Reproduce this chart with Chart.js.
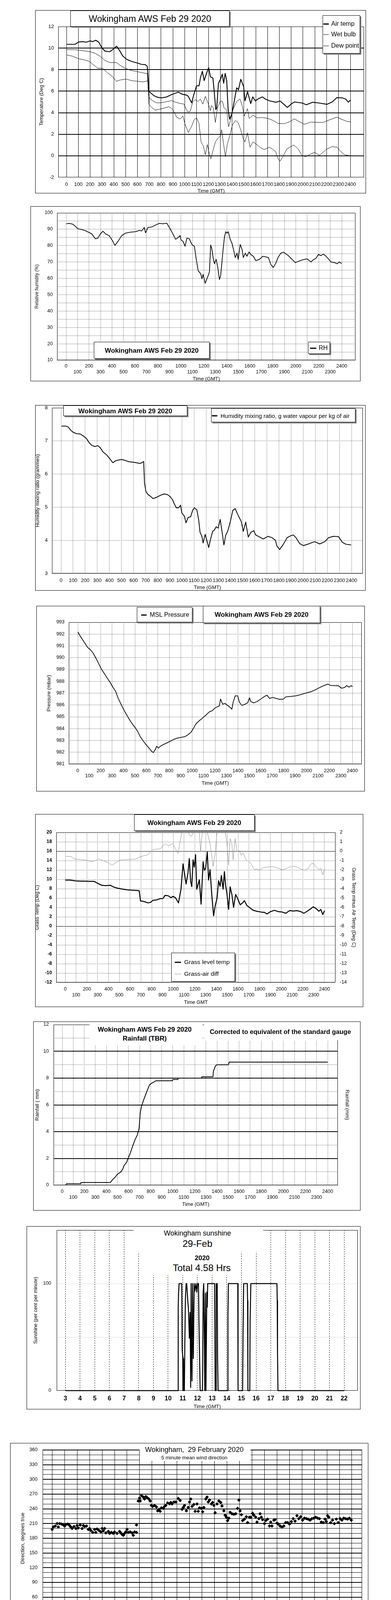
<!DOCTYPE html>
<html><head><meta charset="utf-8">
<script src="https://cdn.jsdelivr.net/npm/chart.js@4/dist/chart.umd.min.js"></script>
<style>
html,body{margin:0;padding:0;background:#fff;}
body{width:1000px;height:5000px;position:relative;overflow:hidden;font-family:'Liberation Sans',Arial,sans-serif;color:#000;}
.box{position:absolute;border:1px solid #000;box-sizing:border-box;}
.cv{position:absolute;}
.lbl{position:absolute;background:#fff;box-sizing:border-box;}
.sh{border:1px solid #000;box-shadow:3px 3px 0 #7f7f7f;}
.clip{overflow:hidden;}
.t{position:absolute;white-space:pre;color:#000;}
.seg{position:absolute;}
</style></head><body>
<script>
// ---------------- tick values ----------------
const hhmmTicks = [0,100,200,300,400,500,600,700,800,900,1000,1100,1200,1300,1400,1500,1600,1700,1800,1900,2000,2100,2200,2300,2400];
const tempTicks = [-2,0,2,4,6,8,10,12];
const rhTicks = [10,15,20,25,30,35,40,45,50,55,60,65,70,75,80,85,90,95,100];
const mixTicks = [3,4,5,6,7,8];
const presTicks = [981,982,983,984,985,986,987,988,989,990,991,992,993];
const grassTicks = [-12,-10,-8,-6,-4,-2,0,2,4,6,8,10,12,14,16,18,20];
const diffTicks = [-14,-13,-12,-11,-10,-9,-8,-7,-6,-5,-4,-3,-2,-1,0,1,2];
const rainTicks = [0,1,2,3,4,5,6,7,8,9,10,11,12];
const sunHourTicks = [3,4,5,6,7,8,9,10,11,12,13,14,15,16,17,18,19,20,21,22];
const sunTicks = [0,50,100,150];
const dirHourTicks = [0,1,2,3,4,5,6,7,8,9,10,11,12,13,14,15,16,17,18,19,20,21,22,23,24];
const dirTicks = [0,10,20,30,40,50,60,70,80,90,100,110,120,130,140,150,160,170,180,190,200,210,220,230,240,250,260,270,280,290,300,310,320,330,340,350,360];
const windHourTicks = [0,1,2,3,4,5,6,7,8,9,10,11,12,13,14,15,16,17,18,19,20,21,22,23];
const speedTicks = [0,5,10,15,20,25,30,35,40,45,50];

// ---------------- series: [time, value] ----------------
const airTemp = [[0,10.35],[72,10.35],[104,10.57],[136,10.6],[167,10.55],[200,10.67],[220,10.6],[248,10.73],[273,10.55],[301,10.0],[326,9.72],[365,9.66],[400,9.94],[424,10.18],[453,9.7],[475,9.28],[507,8.97],[538,8.82],[570,8.7],[602,8.61],[634,8.49],[666,8.47],[683,8.31],[691,7.2],[697,6.0],[708,5.88],[740,5.58],[772,5.43],[803,5.38],[846,5.46],[888,5.68],[945,5.91],[984,5.7],[1015,5.64],[1030,5.52],[1058,4.92],[1079,5.77],[1100,6.5],[1121,6.5],[1132,7.22],[1149,7.85],[1164,6.98],[1185,7.68],[1202,8.19],[1217,7.34],[1238,7.22],[1249,6.0],[1262,4.3],[1270,4.43],[1285,6.74],[1302,7.1],[1317,7.58],[1329,6.74],[1342,7.65],[1355,6.97],[1366,4.4],[1379,3.4],[1397,3.84],[1418,5.04],[1439,6.31],[1454,6.13],[1474,7.1],[1498,6.42],[1509,5.1],[1531,5.94],[1558,4.85],[1575,5.47],[1597,5.1],[1620,5.28],[1657,5.47],[1683,5.26],[1718,5.1],[1773,4.97],[1806,5.09],[1842,4.74],[1867,4.49],[1906,4.86],[1928,5.0],[1994,4.9],[2027,4.74],[2082,4.97],[2137,4.9],[2203,4.78],[2247,5.0],[2285,5.4],[2330,5.38],[2362,5.26],[2383,4.98],[2400,5.16]];
const wetBulb = [[0,9.86],[72,9.85],[136,9.76],[200,9.66],[242,9.52],[284,9.25],[326,8.85],[369,8.65],[422,8.67],[453,8.4],[496,8.13],[538,7.95],[581,7.85],[623,7.76],[655,7.68],[683,7.64],[691,6.0],[697,5.52],[708,5.27],[740,5.04],[761,4.92],[793,4.92],[825,4.98],[856,5.04],[888,5.13],[920,4.98],[962,4.86],[994,4.8],[1005,4.5],[1026,4.07],[1047,4.13],[1068,5.04],[1090,5.22],[1111,5.04],[1132,5.28],[1153,4.8],[1174,5.52],[1196,4.92],[1217,4.2],[1227,4.68],[1242,4.43],[1259,3.1],[1276,4.43],[1302,5.1],[1319,5.04],[1333,4.43],[1355,4.25],[1370,2.68],[1386,3.28],[1408,4.31],[1439,5.04],[1467,5.28],[1488,4.55],[1503,3.7],[1530,4.37],[1545,3.47],[1577,3.77],[1609,3.53],[1651,3.56],[1704,3.47],[1747,3.28],[1789,3.0],[1842,2.98],[1885,3.16],[1927,3.43],[1970,3.16],[2012,2.92],[2065,3.13],[2118,3.1],[2171,3.1],[2224,3.34],[2287,3.59],[2330,3.37],[2372,3.19],[2400,3.16]];
const dewPoint = [[0,9.37],[51,9.25],[104,9.01],[157,8.89],[189,8.79],[231,8.43],[263,8.13],[305,8.13],[348,7.7],[390,7.34],[422,6.92],[453,7.04],[507,7.12],[549,6.98],[602,6.92],[644,6.86],[676,6.92],[691,7.04],[697,4.8],[719,4.5],[750,4.25],[782,4.31],[825,4.43],[867,4.56],[899,4.31],[931,3.59],[962,3.41],[984,3.71],[1001,2.98],[1030,2.16],[1058,2.74],[1079,3.34],[1100,3.53],[1121,2.98],[1138,1.29],[1157,0.92],[1174,0.1],[1191,1.05],[1208,0.16],[1221,-0.3],[1238,0.46],[1259,1.29],[1281,1.65],[1302,1.83],[1312,2.43],[1327,1.17],[1344,-0.08],[1361,1.17],[1382,1.89],[1403,2.86],[1429,3.28],[1450,3.1],[1471,2.49],[1492,1.65],[1509,1.29],[1530,2.13],[1552,0.8],[1577,1.29],[1609,1.05],[1641,0.74],[1673,0.58],[1715,0.8],[1747,0.58],[1768,0.4],[1789,-0.27],[1806,-0.5],[1832,-0.02],[1864,0.64],[1896,0.85],[1921,1.0],[1959,0.64],[1991,0.04],[2022,-0.08],[2065,0.16],[2097,0.32],[2139,0.04],[2171,0.34],[2203,0.64],[2245,0.85],[2287,0.8],[2319,0.4],[2351,0.1],[2383,0.04],[2400,0.0]];
const relHum = [[0,93.35],[26,93.6],[59,93.1],[81,91.8],[103,90.3],[135,89.9],[168,89.1],[201,88.0],[223,87.2],[255,84.2],[277,84.6],[299,87.2],[321,88.8],[343,87.2],[375,86.1],[408,82.6],[425,80.1],[452,82.6],[484,86.1],[517,87.6],[561,88.2],[604,88.5],[637,89.3],[659,89.0],[681,91.1],[692,87.8],[713,91.1],[746,91.4],[779,92.6],[812,93.6],[844,93.35],[877,93.7],[899,91.1],[927,87.6],[953,83.9],[975,84.9],[993,86.1],[1001,83.4],[1019,82.6],[1036,79.6],[1052,84.6],[1073,84.2],[1095,80.7],[1117,79.6],[1132,72.3],[1150,64.7],[1172,62.8],[1183,59.7],[1193,62.4],[1211,57.0],[1233,60.9],[1248,63.9],[1259,80.4],[1270,77.7],[1281,72.3],[1292,68.9],[1307,71.6],[1320,67.0],[1335,59.3],[1346,61.6],[1364,75.4],[1379,85.3],[1390,88.5],[1401,87.6],[1412,88.5],[1429,83.8],[1444,81.5],[1460,76.9],[1473,72.7],[1488,75.4],[1499,71.6],[1510,77.7],[1516,80.7],[1532,77.7],[1543,72.7],[1560,75.4],[1575,73.5],[1593,76.1],[1608,74.6],[1630,73.5],[1652,70.8],[1684,71.6],[1713,73.5],[1739,73.1],[1761,72.7],[1783,68.5],[1804,66.6],[1826,69.3],[1848,73.1],[1870,75.4],[1892,76.0],[1913,75.0],[1935,73.9],[1957,72.3],[1979,70.8],[1996,69.6],[2023,70.4],[2055,71.2],[2077,71.6],[2099,71.9],[2132,70.0],[2153,71.4],[2175,72.2],[2197,74.6],[2219,73.9],[2241,74.8],[2263,73.5],[2284,71.9],[2306,70.0],[2339,69.6],[2361,68.9],[2376,70.0],[2400,69.1]];
const mixRatio = [[4,7.45],[39,7.45],[60,7.42],[81,7.32],[101,7.26],[128,7.22],[159,7.21],[184,7.15],[211,7.07],[232,6.95],[253,6.87],[280,6.83],[304,6.86],[325,6.79],[346,6.67],[377,6.58],[404,6.46],[429,6.34],[449,6.4],[470,6.42],[501,6.44],[532,6.41],[563,6.37],[594,6.36],[625,6.34],[652,6.32],[667,6.34],[683,6.38],[690,5.73],[702,5.47],[719,5.38],[735,5.34],[760,5.26],[791,5.3],[822,5.36],[853,5.4],[880,5.38],[901,5.32],[922,5.22],[936,5.1],[953,4.98],[971,4.98],[988,5.06],[998,4.83],[1019,4.73],[1033,4.53],[1050,4.69],[1071,4.71],[1087,4.9],[1102,4.98],[1122,4.92],[1137,4.63],[1149,4.24],[1164,4.12],[1174,3.92],[1191,4.18],[1205,4.0],[1220,3.78],[1236,4.04],[1253,4.27],[1267,4.31],[1282,4.41],[1299,4.37],[1315,4.63],[1330,4.27],[1346,3.86],[1361,4.16],[1377,4.27],[1398,4.55],[1419,4.9],[1439,4.96],[1454,4.83],[1475,4.67],[1489,4.57],[1506,4.27],[1526,4.55],[1547,4.1],[1568,4.24],[1593,4.29],[1609,4.16],[1640,4.1],[1671,4.04],[1709,4.12],[1744,4.08],[1771,4.0],[1785,3.82],[1806,3.72],[1837,3.88],[1868,4.08],[1899,4.14],[1920,4.16],[1941,4.08],[1972,3.9],[2003,3.84],[2044,3.89],[2096,3.96],[2137,3.89],[2179,3.96],[2210,4.08],[2251,4.12],[2293,4.11],[2324,3.94],[2355,3.88],[2396,3.86]];
const mslPressure = [[0,992.19],[20,991.85],[42,991.52],[64,991.2],[86,990.87],[112,990.66],[134,990.39],[162,989.9],[184,989.47],[206,989.04],[235,988.61],[257,988.28],[283,987.91],[305,987.53],[331,987.15],[353,986.56],[375,986.13],[397,985.69],[426,985.18],[454,984.72],[480,984.35],[502,984.08],[524,983.75],[546,983.32],[573,982.94],[601,982.59],[627,982.3],[645,982.08],[660,981.97],[678,982.24],[689,982.51],[704,982.35],[722,982.51],[748,982.65],[777,982.78],[810,982.94],[842,983.1],[875,983.21],[908,983.27],[937,983.32],[963,983.48],[990,983.7],[1011,984.02],[1033,984.4],[1062,984.67],[1090,984.89],[1121,985.15],[1150,985.42],[1178,985.53],[1200,985.75],[1222,985.86],[1237,985.91],[1248,986.5],[1266,986.07],[1288,986.13],[1310,985.96],[1332,985.8],[1347,985.64],[1358,986.23],[1376,986.77],[1398,986.77],[1413,986.23],[1435,985.96],[1463,986.07],[1485,986.18],[1501,986.61],[1512,986.29],[1538,986.18],[1567,986.29],[1599,986.5],[1632,986.72],[1654,986.83],[1676,986.56],[1705,986.64],[1731,986.56],[1764,986.48],[1797,986.5],[1819,986.69],[1863,986.72],[1907,986.77],[1950,986.88],[1994,987.01],[2038,987.12],[2078,987.29],[2115,987.48],[2152,987.64],[2187,987.77],[2209,987.66],[2247,987.64],[2280,987.62],[2306,987.42],[2334,987.48],[2350,987.64],[2372,987.51],[2391,987.64],[2400,987.55]];
const grassTemp = [[0,9.83],[46,9.83],[93,9.67],[139,9.61],[186,9.61],[232,9.56],[267,9.56],[301,9.14],[336,8.72],[371,8.64],[417,8.72],[452,8.31],[487,8.08],[533,7.89],[580,7.72],[626,7.67],[673,7.61],[684,7.56],[696,5.39],[730,5.25],[765,4.97],[788,5.06],[812,5.53],[846,5.61],[881,5.89],[904,5.89],[923,6.56],[951,6.5],[979,6.08],[997,6.36],[1020,6.08],[1048,4.97],[1071,7.89],[1090,13.3],[1102,11.5],[1118,9.0],[1136,11.36],[1148,14.42],[1160,9.56],[1171,8.44],[1183,14.14],[1194,12.61],[1206,15.25],[1217,7.89],[1241,9.89],[1257,4.69],[1276,13.72],[1287,11.92],[1299,12.33],[1315,15.81],[1326,9.83],[1340,12.06],[1357,6.5],[1373,2.19],[1387,4.28],[1405,5.94],[1419,9.69],[1433,8.5],[1445,10.81],[1461,7.89],[1473,11.64],[1484,8.72],[1496,7.06],[1512,3.58],[1526,8.39],[1542,6.78],[1558,4.0],[1577,6.78],[1595,5.94],[1619,4.56],[1642,4.97],[1658,5.44],[1681,4.42],[1704,4.0],[1739,3.39],[1774,3.17],[1809,3.03],[1844,2.94],[1867,2.61],[1902,3.11],[1936,3.39],[1971,3.11],[2006,3.03],[2041,2.75],[2076,3.31],[2110,3.22],[2145,3.31],[2180,3.11],[2208,2.75],[2238,3.17],[2273,3.72],[2296,4.14],[2324,3.72],[2347,3.17],[2365,3.58],[2384,2.47],[2400,3.31]];
const grassAirDiff = [[0,-0.54],[58,-0.58],[81,-0.83],[139,-0.89],[197,-0.97],[243,-1.11],[278,-1.0],[313,-0.83],[348,-1.0],[394,-1.21],[434,-1.51],[464,-1.25],[510,-0.93],[557,-0.93],[603,-0.86],[649,-0.86],[684,-0.65],[719,-0.51],[765,-0.38],[800,0.11],[835,0.21],[881,0.25],[904,0.6],[928,0.81],[951,0.56],[974,0.67],[997,0.81],[1020,0.25],[1044,-0.24],[1062,0.94],[1078,2.0],[1090,2.5],[1125,2.2],[1164,1.57],[1194,2.1],[1217,2.2],[1241,2.1],[1252,-0.03],[1276,2.9],[1310,2.2],[1340,0.81],[1357,-0.58],[1368,-1.63],[1387,-0.31],[1403,1.92],[1426,2.9],[1449,2.6],[1473,2.75],[1496,0.94],[1512,-1.49],[1526,1.36],[1542,0.81],[1554,-0.93],[1572,1.36],[1589,-0.03],[1612,0.04],[1628,-0.44],[1646,-0.17],[1670,-0.86],[1693,-1.07],[1716,-1.28],[1751,-1.97],[1774,-1.9],[1797,-2.04],[1832,-1.76],[1867,-1.69],[1902,-1.67],[1936,-1.67],[1971,-1.83],[2006,-1.97],[2041,-1.9],[2076,-1.69],[2110,-1.63],[2145,-1.69],[2180,-1.9],[2215,-2.04],[2249,-1.83],[2277,-1.35],[2296,-1.28],[2319,-1.63],[2347,-1.97],[2365,-1.83],[2384,-2.53],[2400,-1.9]];
const rainfall = [[0,0],[32,0],[38,0.1],[168,0.1],[170,0.2],[435,0.2],[457,0.42],[480,0.61],[503,0.84],[530,0.98],[548,1.2],[559,1.46],[582,1.7],[598,2.05],[616,2.4],[638,2.94],[661,3.44],[679,3.74],[695,4.23],[706,5.42],[718,5.92],[734,6.31],[752,6.71],[770,7.1],[790,7.5],[808,7.62],[831,7.72],[847,7.8],[996,7.8],[1001,7.9],[1046,7.9],[1050,8.0],[1261,8.0],[1263,8.1],[1363,8.1],[1367,8.5],[1385,8.9],[1397,9.0],[1503,9.0],[1510,9.2],[2400,9.2]];
const sunshine = [[3,0],[10.67,0],[10.69,78],[10.71,90],[10.75,100],[10.93,100],[10.96,38],[11.0,32],[11.01,0],[11.05,30],[11.08,0],[11.11,0],[11.14,43],[11.18,86],[11.23,100],[11.27,100],[11.34,84],[11.39,76],[11.45,49],[11.5,73],[11.54,3],[11.57,100],[11.59,45],[11.63,9],[11.67,100],[11.72,30],[11.78,100],[11.83,93],[11.9,100],[11.96,92],[12.01,100],[12.07,100],[12.1,68],[12.14,36],[12.17,12],[12.19,0],[12.34,0],[12.36,24],[12.39,92],[12.43,100],[12.48,36],[12.5,0],[12.54,91],[12.58,0],[12.64,92],[12.67,78],[12.7,100],[13.17,100],[13.19,56],[13.21,0],[13.26,0],[13.28,100],[13.35,100],[13.37,34],[13.41,0],[14.06,0],[14.08,71],[14.11,100],[14.75,100],[14.77,0],[15.08,0],[15.11,55],[15.15,100],[15.4,100],[15.42,84],[15.44,0],[15.57,0],[15.59,64],[15.64,100],[17.42,100],[17.44,84],[17.46,35],[17.49,0],[22,0]];
const windDir = [[0,198],[0.1,203],[0.25,205],[0.4,210],[0.5,203],[0.6,210],[0.75,209],[0.9,207],[1.0,205],[1.1,208],[1.25,209],[1.4,206],[1.5,203],[1.6,200],[1.75,204],[1.9,200],[2.0,206],[2.1,201],[2.25,207],[2.4,200],[2.5,206],[2.6,204],[2.75,205],[2.9,198],[3.0,200],[3.1,196],[3.25,192],[3.4,198],[3.5,192],[3.6,199],[3.75,196],[3.9,193],[4.0,200],[4.1,195],[4.2,200],[4.3,191],[4.5,194],[4.6,190],[4.75,192],[4.9,190],[5.0,193],[5.2,190],[5.4,194],[5.5,191],[5.6,188],[5.7,186],[5.8,190],[5.9,193],[6.0,198],[6.1,192],[6.25,193],[6.4,191],[6.5,186],[6.6,193],[6.75,192],[6.76,207],[6.9,256],[7.0,262],[7.05,256],[7.15,267],[7.3,264],[7.4,260],[7.5,265],[7.6,263],[7.75,260],[7.85,256],[7.95,247],[8.05,245],[8.2,247],[8.35,244],[8.45,236],[8.55,239],[8.65,235],[8.75,242],[8.9,241],[9.0,245],[9.1,247],[9.25,252],[9.4,250],[9.5,253],[9.6,250],[9.75,254],[9.9,254],[10.1,261],[10.25,257],[10.4,239],[10.5,243],[10.6,247],[10.75,236],[10.9,243],[11.0,254],[11.1,260],[11.2,245],[11.35,249],[11.45,235],[11.6,250],[11.7,235],[11.8,242],[11.95,241],[12.05,234],[12.15,243],[12.3,260],[12.4,264],[12.5,254],[12.6,258],[12.75,250],[12.85,253],[12.95,247],[13.05,232],[13.2,250],[13.35,256],[13.5,253],[13.6,246],[13.75,236],[13.85,227],[13.95,223],[14.05,216],[14.15,221],[14.25,233],[14.4,230],[14.55,229],[14.7,230],[14.85,241],[14.95,258],[15.05,236],[15.15,228],[15.25,216],[15.4,219],[15.55,224],[15.65,212],[15.8,223],[15.9,223],[16.05,231],[16.15,227],[16.3,223],[16.4,213],[16.55,220],[16.65,230],[16.75,223],[16.85,218],[17.0,210],[17.1,216],[17.25,219],[17.4,205],[17.5,213],[17.6,205],[17.75,217],[17.85,218],[18.0,211],[18.1,209],[18.25,205],[18.4,203],[18.55,205],[18.7,212],[18.85,212],[19.0,209],[19.15,214],[19.3,220],[19.45,215],[19.6,226],[19.75,220],[19.9,224],[20.05,217],[20.2,221],[20.35,220],[20.5,219],[20.65,217],[20.8,220],[20.95,221],[21.1,223],[21.25,221],[21.4,220],[21.55,213],[21.7,212],[21.85,219],[21.95,214],[22.05,226],[22.15,223],[22.3,212],[22.45,217],[22.6,210],[22.75,219],[22.9,212],[23.05,220],[23.2,217],[23.35,221],[23.5,220],[23.65,219],[23.8,221],[23.95,217]];
const meanSpeed = [[0,13.5],[0.16,14.3],[0.35,14.0],[0.45,14.5],[0.55,15.9],[0.65,16.1],[0.74,18.2],[0.84,15.4],[0.98,16.6],[1.14,15.9],[1.33,16.1],[1.49,17.1],[1.63,16.4],[1.76,17.3],[1.88,18.7],[2.02,15.4],[2.16,18.5],[2.27,19.0],[2.41,16.8],[2.55,15.4],[2.7,17.1],[2.86,18.2],[3.0,16.6],[3.19,16.8],[3.39,15.9],[3.59,16.1],[3.78,17.5],[3.92,18.2],[4.08,15.4],[4.23,15.0],[4.43,17.1],[4.57,19.2],[4.7,17.1],[4.86,15.4],[5.02,17.1],[5.15,13.8],[5.29,14.5],[5.45,15.4],[5.6,13.5],[5.76,15.4],[5.92,15.2],[6.07,14.5],[6.23,15.2],[6.43,15.4],[6.58,12.6],[6.72,12.6],[6.86,8.6],[7.01,10.5],[7.17,9.5],[7.33,8.4],[7.5,9.3],[7.64,8.6],[7.8,7.0],[7.95,6.7],[8.07,5.6],[8.23,7.7],[8.39,7.2],[8.5,6.0],[8.66,7.2],[8.82,8.1],[8.97,9.3],[9.17,10.3],[9.33,12.1],[9.48,13.5],[9.66,11.7],[9.84,11.2],[9.99,15.4],[10.15,14.0],[10.31,18.7],[10.46,16.6],[10.62,12.6],[10.78,10.3],[10.93,9.5],[11.09,11.0],[11.25,11.2],[11.4,13.5],[11.56,14.7],[11.72,16.8],[11.87,14.7],[12.03,15.4],[12.19,16.8],[12.34,14.5],[12.5,13.8],[12.66,12.8],[12.81,12.1],[12.93,10.7],[13.09,10.3],[13.24,8.4],[13.4,10.7],[13.56,10.7],[13.71,12.4],[13.87,11.2],[14.03,12.1],[14.18,11.7],[14.36,11.4],[14.56,10.7],[14.75,11.4],[14.95,10.3],[15.09,9.5],[15.24,12.1],[15.4,15.9],[15.56,13.5],[15.73,12.8],[15.93,11.0],[16.12,12.8],[16.26,15.0],[16.42,14.0],[16.61,12.8],[16.81,12.1],[17.01,10.3],[17.2,11.0],[17.4,10.3],[17.59,10.0],[17.79,10.5],[17.99,10.5],[18.18,12.1],[18.38,11.4],[18.57,11.2],[18.77,11.4],[18.97,12.4],[19.16,15.0],[19.36,16.6],[19.51,15.4],[19.71,14.3],[19.91,13.5],[20.06,15.4],[20.24,13.5],[20.43,12.6],[20.57,14.0],[20.77,14.5],[20.96,13.1],[21.12,15.0],[21.28,16.6],[21.41,17.1],[21.55,15.0],[21.71,14.0],[21.9,12.1],[22.1,11.4],[22.3,15.4],[22.45,12.8],[22.65,13.8],[22.84,14.0],[23.04,14.5],[23.18,12.1],[23.32,13.8],[23.49,11.7],[23.68,12.4],[23.84,11.7],[24.02,11.7]];
// max gust, read every 10 minutes from 00:00
const gustKnots = [16,28,20,27,32.5,20,26,22,31,24,30,19,31.5,21,29,23,30.5,22,27,21,26.5,23,28.5,20,33.5,19,28,34.5,21,29,18,26.5,20,24,17,27,19,24,16,20.5,12,17,10,16,9,13,8,12,7,11,8,12.5,10,18,13,22,15,24.5,14,23,31,16,33,19,26,12,18,13,23,15,25.5,17,28.5,14,27,17,32,15,22,11,21,15,30,13,24,14,21,13,18,12,19,11,22,13,25.5,14,24,12,26,14,22,11,21,12,23,11,18,13,24,12,21,13,19,14,26.5,17,25,19,33,18,22,15,20,13,26.5,16,23,14,28,16,25,12,20,14,21,15,22,17,26.5,13,23,15,22,12,21];
const gustHours = gustKnots.map((_, i) => i / 6);
const windGust = gustKnots.map((v, i) => [gustHours[i], v]);

// ---------------- label formatters ----------------
const plainLabel = v => String(v);
const twoRowLabel = v => (Math.round(v / 100) % 2 === 0 ? String(v) : ['', String(v)]);
const hourLabel = v => { const s = (v < 10 ? '0' : '') + v + ':00'; return v % 2 === 0 ? s : ['', s]; };

// ---------------- drawing helpers ----------------
Chart.defaults.font.family = "'Liberation Sans', Arial, Helvetica, sans-serif";
Chart.defaults.color = '#000';

const framePlugin = {
  id: 'frame',
  beforeDatasetsDraw(chart, args, opts) {
    const {ctx, chartArea: a} = chart;
    (opts.hlines || []).forEach(h => {
      const w = h.width || 1;
      const y = Math.round(chart.scales[h.axis || 'y'].getPixelForValue(h.value)) + (w % 2 ? 0.5 : 0);
      ctx.save(); ctx.strokeStyle = h.color || '#000'; ctx.lineWidth = w; ctx.setLineDash([]);
      ctx.beginPath(); ctx.moveTo(a.left, y); ctx.lineTo(a.right, y); ctx.stroke(); ctx.restore();
    });
  },
  afterDatasetsDraw(chart) {
    const {ctx, chartArea: a} = chart;
    ctx.save(); ctx.strokeStyle = '#000'; ctx.lineWidth = 1; ctx.setLineDash([]);
    ctx.strokeRect(a.left + 0.5, a.top + 0.5, a.right - a.left - 1, a.bottom - a.top - 1);
    ctx.restore();
  }
};
Chart.register(framePlugin);

const body = document.body;
body._ox = 0; body._oy = 0;
function mk(parent, cls, x0, y0, x1, y1) {
  const d = document.createElement('div');
  d.className = cls;
  d.style.left = (x0 - parent._ox) + 'px'; d.style.top = (y0 - parent._oy) + 'px';
  d.style.width = (x1 - x0) + 'px'; d.style.height = (y1 - y0) + 'px';
  const b = cls.indexOf('sh') >= 0 || cls.indexOf('box') >= 0 ? 1 : 0;
  d._ox = x0 + b; d._oy = y0 + b;
  parent.appendChild(d);
  return d;
}
function fnt(size, weight) { return (weight || 'normal') + ' ' + size + "px 'Liberation Sans', Arial, sans-serif"; }
function tx(parent, s, x, y, font, align) {
  const d = document.createElement('div');
  d.className = 't';
  d.textContent = s;
  d.style.font = font;
  d.style.lineHeight = '1';
  d.style.left = (x - parent._ox) + 'px';
  d.style.top = (y - parent._oy) + 'px';
  d.style.transform = align === 'l' ? 'translate(0,-50%)' : 'translate(-50%,-50%)';
  parent.appendChild(d);
}
function seg(parent, x0, x1, y, h, color) {
  const d = document.createElement('div');
  d.className = 'seg';
  d.style.left = (x0 - parent._ox) + 'px'; d.style.top = (y - h / 2 - parent._oy) + 'px';
  d.style.width = (x1 - x0) + 'px'; d.style.height = h + 'px';
  d.style.background = color || '#000';
  parent.appendChild(d);
}
function range(p0, pN, v0, vN, a, b) { const k = (vN - v0) / (pN - p0); return [v0 + (a - p0) * k, v0 + (b - p0) * k]; }

const M = 12;
function build(cfg) {
  const [bx0, by0, bx1, by1] = cfg.box, [px0, py0, px1, py1] = cfg.plot;
  const cx0 = bx0 - M, cy0 = by0 - M, cx1 = bx1 + M, cy1 = by1 + M, W = cx1 - cx0, H = cy1 - cy0;
  mk(body, 'box', bx0, by0, bx1, by1);
  const cv = document.createElement('canvas');
  cv.className = 'cv'; cv.width = W; cv.height = H;
  cv.style.left = cx0 + 'px'; cv.style.top = cy0 + 'px'; cv.style.width = W + 'px'; cv.style.height = H + 'px';
  body.appendChild(cv);
  const X = cfg.x, Y = cfg.y, Y1 = cfg.y1;
  const F = f => ({size: f.size, weight: f.weight || 'normal', lineHeight: f.lh + 'px'});
  const [xmin, xmax] = range(X.p0, X.pN, X.v0, X.vN, px0, px1);
  const scales = {
    x: {
      type: 'linear', position: 'bottom', min: xmin, max: xmax,
      afterBuildTicks: s => { s.ticks = X.ticks.map(v => ({value: v})); },
      afterFit: s => { s.height = cy1 - py1; },
      ticks: {autoSkip: false, maxRotation: 0, minRotation: 0, font: F(X.font), color: '#000',
        padding: X.labelY - py1 - X.font.lh / 2, callback: v => X.label(v)},
      grid: {color: X.gridColor || '#000', lineWidth: X.gridWidth || 1, drawTicks: false},
      border: {display: false, dash: X.dash || []},
      title: {display: true, text: X.title, color: '#000', font: F(X.titleFont),
        padding: {top: 0, bottom: cy1 - X.titleY - X.titleFont.lh / 2}}
    },
    y: {
      type: 'linear', position: 'left', min: Y.min, max: Y.max,
      afterBuildTicks: s => { s.ticks = Y.ticks.map(v => ({value: v})); },
      afterFit: s => { s.width = px0 - cx0; },
      ticks: {autoSkip: false, font: F(Y.font), color: '#000', padding: px0 - Y.labelRight, callback: v => Y.label(v)},
      grid: {color: Y.gridColor || '#000', lineWidth: Y.gridWidth || 1, drawTicks: false},
      border: {display: false, dash: Y.dash || []},
      title: {display: true, text: Y.title, color: '#000', font: F(Y.titleFont),
        padding: {top: Y.titleX - cx0 - Y.titleFont.lh / 2, bottom: 0}}
    }
  };
  if (Y1) {
    scales.y1 = {
      type: 'linear', position: 'right', min: Y1.min, max: Y1.max,
      afterBuildTicks: s => { s.ticks = Y1.ticks.map(v => ({value: v})); },
      afterFit: s => { s.width = cx1 - px1; },
      ticks: {display: Y1.showTicks !== false, autoSkip: false, font: F(Y1.font), color: '#000',
        padding: (Y1.labelLeft || px1) - px1, callback: v => Y1.label(v)},
      grid: {drawOnChartArea: false, drawTicks: false},
      border: {display: false},
      title: {display: true, text: Y1.title, color: '#000', font: F(Y1.titleFont),
        padding: {top: cx1 - Y1.titleX - Y1.titleFont.lh / 2, bottom: 0}}
    };
  }
  const datasets = cfg.series.map(s => ({
    data: s.data.map(p => ({x: p[0], y: p[1]})),
    borderColor: s.color || '#000',
    backgroundColor: s.color || '#000',
    borderWidth: s.width || 1,
    showLine: !s.points,
    pointRadius: s.points || 0,
    pointHoverRadius: 0,
    pointStyle: s.pointStyle || 'circle',
    pointBackgroundColor: s.color || '#000',
    pointBorderColor: s.color || '#000',
    pointBorderWidth: 1,
    tension: 0,
    borderJoinStyle: 'round',
    clip: s.clip !== undefined ? s.clip : 0,
    yAxisID: s.axis || 'y'
  }));
  new Chart(cv, {
    type: 'line',
    data: {datasets},
    options: {
      responsive: false, animation: false, events: [],
      layout: {padding: {left: 0, top: py0 - cy0, right: Y1 ? 0 : cx1 - px1, bottom: 0}},
      scales,
      plugins: {legend: {display: false}, tooltip: {enabled: false}, frame: {hlines: cfg.hlines || []}}
    }
  });
}

const f13 = {size: 13, lh: 15}, f125 = {size: 12.5, lh: 15}, f12 = {size: 12, lh: 14};
const DOT = [1, 2];

// ---------- Panel 1: temperatures ----------
build({
  box: [90, 26, 936, 495], plot: [149, 68, 931, 454],
  x: {p0: 170, pN: 896, v0: 0, vN: 2400, ticks: hhmmTicks, label: plainLabel, font: f13, labelY: 472,
      title: 'Time (GMT)', titleFont: f13, titleY: 489},
  y: {min: -2, max: 12, ticks: tempTicks, label: plainLabel, font: f13, labelRight: 138,
      title: 'Temperature (Deg C)', titleFont: f13, titleX: 106,
      gridColor: c => (c.tick && c.tick.value > -2 && c.tick.value < 12) ? '#000' : 'rgba(0,0,0,0)', gridWidth: 2},
  series: [{data: airTemp, width: 2.2}, {data: wetBulb, width: 1}, {data: dewPoint, width: 1}]
});
{
  const t = mk(body, 'lbl sh', 180, 27, 587, 68); tx(t, 'Wokingham AWS Feb 29 2020', 383.5, 47.5, fnt(23));
  const l = mk(body, 'lbl sh', 825, 39, 921, 137);
  seg(l, 827, 841, 61, 3); tx(l, 'Air temp', 847, 61, fnt(16), 'l');
  seg(l, 827, 841, 88, 1); tx(l, 'Wet bulb', 847, 88, fnt(16), 'l');
  seg(l, 827, 841, 117, 1); tx(l, 'Dew point', 847, 117, fnt(16), 'l');
}

// ---------- Panel 2: RH ----------
build({
  box: [78, 528, 922, 976], plot: [146, 545, 909, 922],
  x: {p0: 169, pN: 874, v0: 0, vN: 2400, ticks: hhmmTicks, label: twoRowLabel, font: f125, labelY: 938,
      title: 'Time (GMT)', titleFont: f13, titleY: 970, dash: DOT},
  y: {min: 10, max: 100, ticks: rhTicks, label: v => (v % 10 === 0 ? String(v) : ''), font: f125, labelRight: 135,
      title: 'Relative humidity (%)', titleFont: f12, titleX: 95, dash: DOT},
  series: [{data: relHum, width: 1.8}]
});
{
  const t = mk(body, 'lbl sh', 240, 875, 536, 918); tx(t, 'Wokingham AWS Feb 29 2020', 388, 896.5, fnt(17, 'bold'));
  const l = mk(body, 'lbl sh', 788, 875, 844, 906);
  seg(l, 793, 809, 891, 3); tx(l, 'RH', 815, 891, fnt(16), 'l');
}

// ---------- Panel 3: mixing ratio ----------
build({
  box: [90, 1037, 935, 1512], plot: [133, 1044, 928, 1468],
  x: {p0: 156, pN: 899, v0: 0, vN: 2400, ticks: hhmmTicks, label: plainLabel, font: f13, labelY: 1486,
      title: 'Time (GMT)', titleFont: f13, titleY: 1504, dash: DOT},
  y: {min: 3, max: 8, ticks: mixTicks, label: plainLabel, font: f13, labelRight: 122,
      title: 'Humidity mixing ratio (grammes)', titleFont: f13, titleX: 96, dash: DOT},
  series: [{data: mixRatio, width: 2}]
});
{
  const t = mk(body, 'lbl sh', 162, 1038, 479, 1065); tx(t, 'Wokingham AWS Feb 29 2020', 320.5, 1051.5, fnt(17, 'bold'));
  const l = mk(body, 'lbl sh clip', 540, 1045, 909, 1081);
  seg(l, 542, 556, 1064, 3); tx(l, 'Humidity mixing ratio, g water vapour per kg of air', 564, 1064, fnt(15), 'l');
}

// ---------- Panel 4: pressure ----------
build({
  box: [93, 1551, 933, 2026], plot: [176, 1593, 925, 1956],
  x: {p0: 199, pN: 901, v0: 0, vN: 2400, ticks: hhmmTicks, label: twoRowLabel, font: {size: 12.5, lh: 13}, labelY: 1974,
      title: 'Time (GMT)', titleFont: f13, titleY: 2005, dash: DOT},
  y: {min: 981, max: 993, ticks: presTicks, label: plainLabel, font: f125, labelRight: 165,
      title: 'Pressure (mbar)', titleFont: f13, titleX: 125, dash: DOT},
  series: [{data: mslPressure, width: 1.8}]
});
{
  const l = mk(body, 'lbl sh', 350, 1554, 492, 1593);
  seg(l, 361, 375, 1574, 3); tx(l, 'MSL Pressure', 383, 1574, fnt(16), 'l');
  const t = mk(body, 'lbl sh', 519, 1551, 819, 1595); tx(t, 'Wokingham AWS Feb 29 2020', 669, 1573, fnt(17, 'bold'));
}

// ---------- Panel 5: grass temperature ----------
build({
  box: [90, 2084, 929, 2578], plot: [144, 2131, 858, 2515],
  x: {p0: 167, pN: 830, v0: 0, vN: 2400, ticks: hhmmTicks, label: twoRowLabel, font: f125, labelY: 2533,
      title: 'Time GMT', titleFont: f13, titleY: 2566, dash: DOT},
  y: {min: -12, max: 20, ticks: grassTicks, label: plainLabel, font: {size: 12.5, lh: 15, weight: 'bold'}, labelRight: 133,
      title: 'Grass Temp (Deg C)', titleFont: f125, titleX: 96, dash: DOT},
  y1: {min: -14, max: 2, ticks: diffTicks, label: plainLabel, font: f125, labelLeft: 869,
      title: 'Grass Temp minus Air Temp (Deg C)', titleFont: f125, titleX: 904},
  hlines: [{axis: 'y', value: 16, width: 1}, {axis: 'y', value: 0, width: 1}],
  series: [{data: grassTemp, width: 2.5}, {data: grassAirDiff, width: 1, color: '#8a8a8a', axis: 'y1'}]
});
{
  const t = mk(body, 'lbl sh', 343, 2085, 651, 2127); tx(t, 'Wokingham AWS Feb 29 2020', 497, 2106, fnt(17, 'bold'));
  const l = mk(body, 'lbl sh', 438, 2439, 601, 2513);
  seg(l, 447, 463, 2463, 3); tx(l, 'Grass level temp', 471, 2463, fnt(15.5), 'l');
  seg(l, 447, 463, 2493, 1, '#8a8a8a'); tx(l, 'Grass-air diff', 471, 2493, fnt(15.5), 'l');
}

// ---------- Panel 6: rainfall ----------
build({
  box: [85, 2615, 922, 3099], plot: [137, 2623, 864, 3034],
  x: {p0: 159, pN: 838, v0: 0, vN: 2400, ticks: hhmmTicks, label: twoRowLabel, font: f125, labelY: 3051,
      title: 'Time (GMT)', titleFont: f13, titleY: 3083, dash: DOT},
  y: {min: 0, max: 12, ticks: rainTicks, label: v => (v % 2 === 0 ? String(v) : ''), font: f125, labelRight: 125,
      title: 'Rainfall ( mm)', titleFont: f13, titleX: 95, dash: DOT},
  y1: {min: 0, max: 12, ticks: rainTicks, label: plainLabel, font: f125, showTicks: false,
      title: 'Rainfall (mm)', titleFont: f13, titleX: 888},
  hlines: [{value: 2, width: 2}, {value: 4, width: 2}, {value: 6, width: 2}, {value: 8, width: 2}, {value: 10, width: 2}],
  series: [{data: rainfall, width: 2}]
});
{
  mk(body, 'lbl', 229, 2618, 518, 2677);
  mk(body, 'lbl', 522, 2618, 870, 2663);
  tx(body, 'Wokingham AWS Feb 29 2020', 370, 2635, fnt(17, 'bold'));
  tx(body, 'Rainfall (TBR)', 370, 2658, fnt(17, 'bold'));
  tx(body, 'Corrected to equivalent of the standard gauge', 717, 2641, fnt(16.5, 'bold'));
}

// ---------- Panel 7: sunshine ----------
build({
  box: [68, 3139, 922, 3608], plot: [145, 3149, 915, 3560],
  x: {p0: 167.3, pN: 880.1, v0: 3, vN: 22, ticks: sunHourTicks, label: plainLabel, font: {size: 16, lh: 19, weight: 'bold'}, labelY: 3581,
      title: 'Time (GMT)', titleFont: f13, titleY: 3601, dash: [3, 3]},
  y: {min: 0, max: 150, ticks: sunTicks, label: v => (v === 0 || v === 100 ? String(v) : ''), font: f125, labelRight: 131,
      title: 'Sunshine (per cent per minute)', titleFont: f125, titleX: 92, dash: DOT,
      gridColor: c => (c.tick && (c.tick.value === 50 || c.tick.value === 100)) ? '#9a9a9a' : 'rgba(0,0,0,0)'},
  series: [{data: sunshine, width: 2.5, clip: 3}]
});
{
  mk(body, 'lbl', 342, 3145, 673, 3205);
  mk(body, 'lbl', 360, 3205, 612, 3264);
  tx(body, 'Wokingham sunshine', 505, 3157, fnt(18));
  tx(body, '29-Feb', 505, 3184, fnt(24));
  tx(body, '2020', 517, 3220, fnt(17, 'bold'));
  tx(body, 'Total 4.58 Hrs', 516, 3246, fnt(24));
}

// ---------- Panel 8: wind direction ----------
build({
  box: [26, 3694, 942, 4211], plot: [109, 3712, 926, 4164],
  x: {p0: 133.3, pN: 900, v0: 0, vN: 24, ticks: dirHourTicks, label: plainLabel, font: f125, labelY: 4181,
      title: 'Time (GMT)', titleFont: f13, titleY: 4199},
  y: {min: 0, max: 360, ticks: dirTicks, label: v => (v % 30 === 0 ? String(v) : ''), font: f125, labelRight: 96,
      title: 'Direction, degrees true', titleFont: f13, titleX: 58,
      gridWidth: c => (c.tick && c.tick.value % 30 === 0) ? 2 : 1},
  series: [{data: windDir, points: 4, pointStyle: 'rectRot'}]
});
{
  mk(body, 'lbl', 357, 3708, 641, 3740);
  tx(body, 'Wokingham,  29 February 2020', 497, 3711, fnt(18));
  tx(body, '5 minute mean wind direction', 497, 3731, fnt(13));
}

// ---------- Panel 9: wind speed ----------
build({
  box: [27, 4237, 944, 4735], plot: [85, 4281, 939, 4663],
  x: {p0: 110.3, pN: 862.9, v0: 0, vN: 23, ticks: windHourTicks, label: hourLabel, font: {size: 12, lh: 15}, labelY: 4679,
      title: 'Time (GMT)', titleFont: {size: 14, lh: 16}, titleY: 4712, dash: DOT},
  y: {min: 0, max: 50, ticks: speedTicks, label: v => (v % 10 === 0 ? String(v) : ''), font: f125, labelRight: 75,
      title: 'Speed (knots)', titleFont: f13, titleX: 41, dash: DOT},
  series: [{data: meanSpeed, width: 2}, {data: windGust, width: 1, color: '#5a5a5a'}]
});
{
  tx(body, 'Wokingham,  29 February 2020', 256, 4259, fnt(17, 'bold'));
  tx(body, 'Wind speed, 10 min mean / max gust', 565, 4250, fnt(13));
  tx(body, 'Speeds below 4 kt shown at x10 scale', 565, 4267, fnt(13));
  const l = mk(body, 'lbl sh', 719, 4244, 939, 4268);
  seg(l, 751, 762, 4256, 3); tx(l, 'Speed x 1', 769, 4256, fnt(10), 'l');
  tx(l, '\u25CA', 842, 4256, fnt(12)); tx(l, 'Speed / 10', 854, 4256, fnt(10), 'l');
}
</script>
</body></html>
